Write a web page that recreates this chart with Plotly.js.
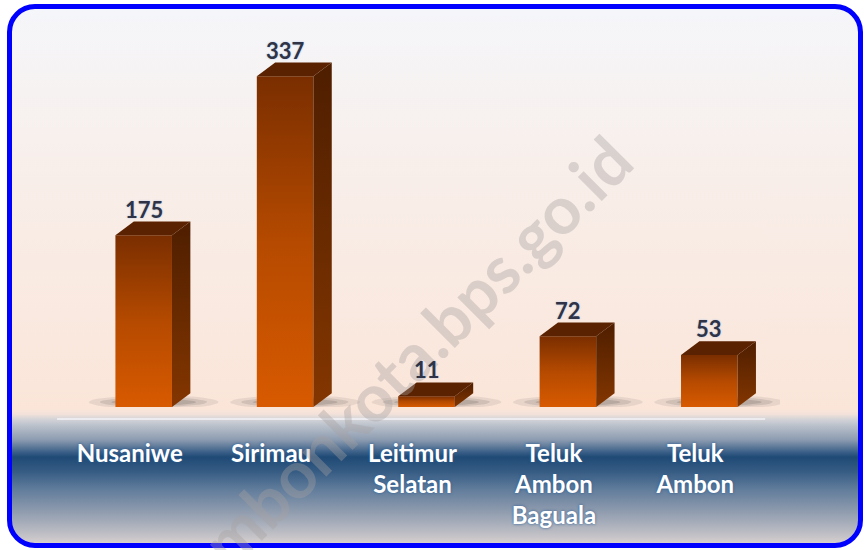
<!DOCTYPE html>
<html>
<head>
<meta charset="utf-8">
<script src="https://cdn.plot.ly/plotly-3.0.1.min.js"></script>
<style>
  html, body { margin: 0; padding: 0; background: #ffffff; }
  #wrap { position: relative; width: 865px; height: 550px; overflow: hidden; }
  #bg {
    position: absolute; left: 7px; top: 4px; width: 856px; height: 544px;
    box-sizing: border-box; border: 5px solid #0000ff; border-radius: 28px;
    background: linear-gradient(to bottom,
      #f5f6fa 0px, #f8eee9 170px, #fae8de 330px, #fbe5d9 400px,
      #f3e2da 405px, #d0d1d6 411px, #b9c0ca 417px, #8b9bb0 431px,
      #3b6088 443px, #1f4a75 448px, #355b83 462px, #607c9b 480px,
      #8a98ac 500px, #a9afbb 515px, #c6c4c8 528px, #ddd3ce 536px);
  }
  #chart { position: absolute; left: 0; top: 0; width: 865px; height: 550px; }
</style>
</head>
<body>
<div id="wrap">
  <div id="bg"></div>
  <div id="chart"></div>
</div>
<script>
// ---- data ----
const categories = ['Nusaniwe', 'Sirimau', 'Leitimur<br>Selatan', 'Teluk<br>Ambon<br>Baguala', 'Teluk<br>Ambon'];
const values = [175, 337, 11, 72, 53];
const valueLabels = ['175', '337', '11', '72', '53'];

// ---- 3D bar geometry (style) ----
const halfW = 0.2;    // half bar width, category units
const depthX = 0.13;  // depth offset, category units
const depthY = 14;    // depth offset, value units

const traces = [];
const positions = categories.map((c, i) => i);

// soft floor shadows
positions.forEach((i) => {
  const layers = [[0.46, 7, 0.09], [0.38, 5, 0.12], [0.30, 3.5, 0.15]];
  layers.forEach(([rx, ry, a]) => {
    const xs = [], ys = [];
    for (let k = 0; k <= 36; k++) {
      const t = (k / 36) * 2 * Math.PI;
      xs.push(i + 0.07 + rx * Math.cos(t));
      ys.push(5 + ry * Math.sin(t));
    }
    traces.push({type: 'scatter', mode: 'lines', x: xs, y: ys, fill: 'toself',
      fillcolor: 'rgba(40,40,40,' + a + ')', line: {width: 0}, hoverinfo: 'skip', showlegend: false});
  });
});

positions.forEach((i) => {
  const v = values[i];
  // front face
  traces.push({
    type: 'scatter', mode: 'lines', fill: 'toself', showlegend: false, hoverinfo: 'skip',
    x: [i - halfW, i + halfW, i + halfW, i - halfW, i - halfW],
    y: [0, 0, v, v, 0],
    line: {width: 0, color: '#b04800'},
    fillgradient: {type: 'vertical', colorscale: [[0, '#d85a00'], [0.5, '#b54a00'], [1, '#7a2e00']]}
  });
  // side face
  traces.push({
    type: 'scatter', mode: 'lines', fill: 'toself', showlegend: false, hoverinfo: 'skip',
    x: [i + halfW, i + halfW + depthX, i + halfW + depthX, i + halfW, i + halfW],
    y: [0, depthY, v + depthY, v, 0],
    line: {width: 0, color: '#6a2a00'},
    fillgradient: {type: 'vertical', colorscale: [[0, '#843600'], [1, '#4e1e00']]}
  });
  // top face
  traces.push({
    type: 'scatter', mode: 'lines', fill: 'toself', showlegend: false, hoverinfo: 'skip',
    x: [i - halfW, i + halfW, i + halfW + depthX, i - halfW + depthX, i - halfW],
    y: [v, v, v + depthY, v + depthY, v],
    line: {width: 0, color: '#5a2200'},
    fillcolor: '#5a2200'
  });
});

const annotations = [{
  text: 'ambonkota.bps.go.id', xref: 'paper', yref: 'paper', x: 0.468, y: 0.1226,
  xanchor: 'center', yanchor: 'middle', textangle: -45, showarrow: false,
  font: {family: 'Lato', size: 66, weight: 'bold', color: 'rgba(165,160,160,0.38)'}
}];

positions.forEach((i) => annotations.push({
  x: i, y: values[i] + depthY, xref: 'x', yref: 'y',
  text: valueLabels[i], showarrow: false, xanchor: 'center', yanchor: 'bottom', yshift: -3,
  font: {family: 'Lato', size: 22, color: '#2f3345', weight: 'bold', shadow: '0 0 2px #a9c4ea'}
}));

const layout = {
  width: 865, height: 550,
  margin: {l: 73, r: 85, t: 40, b: 143},
  paper_bgcolor: 'rgba(0,0,0,0)', plot_bgcolor: 'rgba(0,0,0,0)',
  showlegend: false,
  xaxis: {
    type: 'linear', range: [-0.5, 4.5], tickvals: positions, ticktext: categories,
    showgrid: false, zeroline: false, showline: false, ticks: '',
    ticklabelstandoff: 30, ticklabelshift: -14, fixedrange: true,
    tickfont: {family: 'Lato', size: 24, color: '#ffffff', weight: 'bold', shadow: '0 0 3px #2a5c94'}
  },
  yaxis: {range: [0, 374], visible: false, fixedrange: true},
  shapes: [{
    type: 'line', xref: 'paper', yref: 'paper', x0: -0.0226, x1: 0.979, y0: -0.0327, y1: -0.0327,
    line: {color: '#ececf0', width: 2}
  }],
  annotations: annotations
};

Plotly.newPlot('chart', traces, layout, {displayModeBar: false, staticPlot: true});
</script>
</body>
</html>
